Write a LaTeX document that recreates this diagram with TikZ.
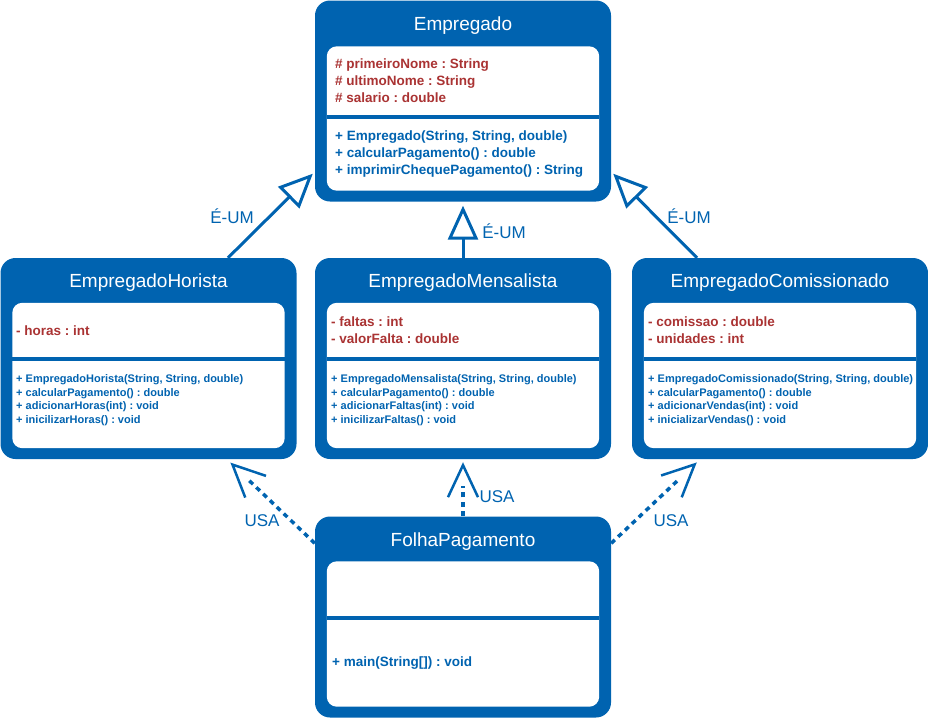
\documentclass[tikz,border=0pt]{standalone}
\usepackage{fontspec}
\setmainfont{Liberation Sans}
\frenchspacing
\usetikzlibrary{arrows.meta,positioning,decorations.markings}
\definecolor{azul}{RGB}{0,99,176}
\definecolor{vermelho}{RGB}{170,51,51}
\begin{document}
\begin{tikzpicture}[x=1pt,y=-1pt]
\tikzstyle{classe}=[rectangle, rounded corners=15pt, fill=azul, minimum width=296pt, minimum height=201pt, inner sep=0]
\tikzstyle{titulo}=[anchor=base, text=white, font=\fontsize{19}{22}\selectfont]
\tikzstyle{painel}=[fill=white, rounded corners=10pt]
\tikzstyle{divisor}=[draw=azul, line width=4pt]
\tikzstyle{atributo}=[anchor=west, align=left, inner sep=0, text=vermelho, font=\bfseries\fontsize{13.5}{17}\selectfont]
\tikzstyle{metodo}=[anchor=west, align=left, inner sep=0, text=azul, font=\bfseries\fontsize{13.5}{17}\selectfont]
\tikzstyle{metodop}=[metodo, font=\bfseries\fontsize{11}{13.7}\selectfont]
\tikzstyle{rotulo}=[text=azul, font=\fontsize{17}{20}\selectfont]
\tikzstyle{heranca}=[draw=azul, line width=3pt, -{Triangle[open, length=34pt, width=30pt]}]
\tikzstyle{usa}=[draw=azul, line width=3.5pt, dash pattern=on 5pt off 4.5pt, shorten >=24pt,
  postaction={decorate, decoration={markings, mark=at position 0.9999 with {\arrow[solid, line width=2.5pt]{Straight Barb[length=32pt, width=30pt]}}}}]
\useasboundingbox (0,0) rectangle (928,718);
\node[classe] (empregado) at (463,101) {};
\fill[painel] ([xshift=12pt,yshift=-46pt]empregado.north west) rectangle ([xshift=-12pt,yshift=11pt]empregado.south east);
\draw[divisor] ([xshift=12pt,yshift=-117pt]empregado.north west) -- ([xshift=-12pt,yshift=-117pt]empregado.north east);
\node[titulo] (empregado-t) at ([yshift=-30pt]empregado.north) {Empregado};
\node[atributo] (empregado-a) at (335,81) {\# primeiroNome : String\\\# ultimoNome : String\\\# salario : double};
\node[metodo] (empregado-m) at (335,154.5) {+ Empregado(String, String, double)\\+ calcularPagamento() : double\\+ imprimirChequePagamento() : String};
\node[classe] (horista) at (148.5,358.5) {};
\fill[painel] ([xshift=12pt,yshift=-45pt]horista.north west) rectangle ([xshift=-12pt,yshift=11pt]horista.south east);
\draw[divisor] ([xshift=12pt,yshift=-101.5pt]horista.north west) -- ([xshift=-12pt,yshift=-101.5pt]horista.north east);
\node[titulo] (horista-t) at ([yshift=-30pt]horista.north) {EmpregadoHorista};
\node[atributo] (horista-a) at (16,331) {- horas : int};
\node[metodop] (horista-m) at (16,400) {+ EmpregadoHorista(String, String, double)\\+ calcularPagamento() : double\\+ adicionarHoras(int) : void\\+ inicilizarHoras() : void};
\node[classe] (mensalista) at (463,358.5) {};
\fill[painel] ([xshift=12pt,yshift=-45pt]mensalista.north west) rectangle ([xshift=-12pt,yshift=11pt]mensalista.south east);
\draw[divisor] ([xshift=12pt,yshift=-101.5pt]mensalista.north west) -- ([xshift=-12pt,yshift=-101.5pt]mensalista.north east);
\node[titulo] (mensalista-t) at ([yshift=-30pt]mensalista.north) {EmpregadoMensalista};
\node[atributo] (mensalista-a) at (331,330.6) {- faltas : int\\- valorFalta : double};
\node[metodop] (mensalista-m) at (331,400) {+ EmpregadoMensalista(String, String, double)\\+ calcularPagamento() : double\\+ adicionarFaltas(int) : void\\+ inicilizarFaltas() : void};
\node[classe] (comissionado) at (780,358.5) {};
\fill[painel] ([xshift=12pt,yshift=-45pt]comissionado.north west) rectangle ([xshift=-12pt,yshift=11pt]comissionado.south east);
\draw[divisor] ([xshift=12pt,yshift=-101.5pt]comissionado.north west) -- ([xshift=-12pt,yshift=-101.5pt]comissionado.north east);
\node[titulo] (comissionado-t) at ([yshift=-30pt]comissionado.north) {EmpregadoComissionado};
\node[atributo] (comissionado-a) at (648,330.6) {- comissao : double\\- unidades : int};
\node[metodop] (comissionado-m) at (648,400) {+ EmpregadoComissionado(String, String, double)\\+ calcularPagamento() : double\\+ adicionarVendas(int) : void\\+ inicializarVendas() : void};
\node[classe] (folha) at (463,617) {};
\fill[painel] ([xshift=12pt,yshift=-45pt]folha.north west) rectangle ([xshift=-12pt,yshift=11pt]folha.south east);
\draw[divisor] ([xshift=12pt,yshift=-102pt]folha.north west) -- ([xshift=-12pt,yshift=-102pt]folha.north east);
\node[titulo] (folha-t) at ([yshift=-30pt]folha.north) {FolhaPagamento};
\node[metodo] (folha-m) at (332,663.5) {+ main(String[]) : void};
\draw[heranca] ([xshift=79.5pt]horista.north) -- ([xshift=-2pt,yshift=28pt]empregado.south west);
\draw[heranca] (mensalista.north) -- ([yshift=-4pt]empregado.south);
\draw[heranca] ([xshift=-83pt]comissionado.north) -- ([xshift=2pt,yshift=28pt]empregado.south east);
\draw[usa] ([yshift=-27pt]folha.north west) -- ([xshift=81.5pt,yshift=-3pt]horista.south);
\draw[usa] (folha.north) -- ([yshift=-3pt]mensalista.south);
\draw[usa] ([yshift=-27pt]folha.north east) -- ([xshift=-83pt,yshift=-3pt]comissionado.south);
\node[rotulo] (eum-h) at (232,216) {É-UM};
\node[rotulo] (eum-m) at (504,231) {É-UM};
\node[rotulo] (eum-c) at (689,216) {É-UM};
\node[rotulo] (usa-h) at (262,521) {USA};
\node[rotulo] (usa-m) at (497,497) {USA};
\node[rotulo] (usa-c) at (671,521) {USA};
\end{tikzpicture}
\end{document}
